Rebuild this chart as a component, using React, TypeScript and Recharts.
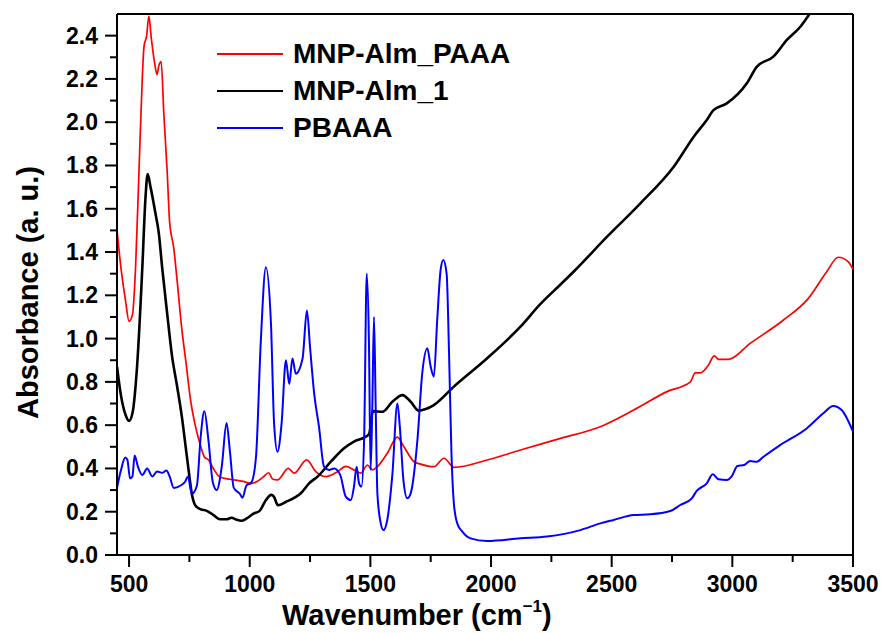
import React from 'react';
import { LineChart, Line, XAxis, YAxis, Legend, ReferenceLine, Label } from 'recharts';

const FONT = '"Liberation Sans", Arial, Helvetica, sans-serif';

// [wavenumber cm-1, absorbance]
const mnpAlmPaaa: [number, number][] = [
  [450, 1.5], [466, 1.33], [486, 1.17], [500, 1.08], [514, 1.11], [527, 1.33], [541, 1.77],
  [555, 2.21], [562, 2.35], [573, 2.4], [582, 2.49], [592, 2.39], [605, 2.28], [616, 2.22],
  [623, 2.26], [633, 2.28], [644, 2.04], [658, 1.77], [668, 1.54], [685, 1.42], [699, 1.27],
  [719, 1.04], [737, 0.88], [753, 0.73], [774, 0.6], [795, 0.51], [814, 0.45], [829, 0.44],
  [849, 0.4], [877, 0.36], [918, 0.35], [973, 0.34], [1005, 0.33], [1030, 0.34], [1055, 0.36],
  [1078, 0.38], [1096, 0.35], [1115, 0.347], [1160, 0.4], [1184, 0.378], [1236, 0.44],
  [1274, 0.385], [1315, 0.362], [1364, 0.385], [1398, 0.41], [1432, 0.393], [1460, 0.378],
  [1488, 0.416], [1508, 0.393], [1529, 0.408], [1570, 0.47], [1612, 0.545], [1639, 0.5],
  [1681, 0.431], [1708, 0.42], [1763, 0.408], [1805, 0.447], [1846, 0.405], [1984, 0.439],
  [2122, 0.485], [2288, 0.539], [2453, 0.593], [2591, 0.67], [2729, 0.755], [2826, 0.8],
  [2846, 0.842], [2867, 0.842], [2901, 0.878], [2925, 0.92], [2943, 0.904], [2984, 0.904],
  [3074, 0.978], [3212, 1.086], [3315, 1.186], [3391, 1.309], [3439, 1.376], [3481, 1.355],
  [3500, 1.32],
];

const mnpAlm1: [number, number][] = [
  [450, 0.87], [466, 0.74], [486, 0.646], [500, 0.62], [514, 0.655], [534, 0.885], [555, 1.33],
  [568, 1.65], [577, 1.76], [589, 1.7], [610, 1.575], [623, 1.49], [637, 1.33], [658, 1.115],
  [678, 0.92], [699, 0.78], [719, 0.637], [737, 0.478], [747, 0.39], [760, 0.283], [774, 0.23],
  [795, 0.212], [822, 0.204], [849, 0.185], [877, 0.165], [904, 0.165], [925, 0.172],
  [945, 0.163], [966, 0.158], [986, 0.168], [1014, 0.19], [1041, 0.204], [1068, 0.255],
  [1089, 0.278], [1100, 0.27], [1117, 0.23], [1151, 0.246], [1193, 0.27], [1212, 0.285],
  [1246, 0.331], [1281, 0.362], [1336, 0.431], [1391, 0.493], [1432, 0.524], [1481, 0.547],
  [1495, 0.56], [1510, 0.665], [1550, 0.662], [1591, 0.708], [1633, 0.739], [1667, 0.708],
  [1701, 0.667], [1730, 0.675], [1763, 0.693], [1846, 0.778], [1984, 0.909], [2122, 1.055],
  [2205, 1.16], [2288, 1.25], [2343, 1.31], [2481, 1.471], [2619, 1.625], [2757, 1.794],
  [2840, 1.933], [2894, 2.01], [2922, 2.056], [2977, 2.087], [3060, 2.18], [3101, 2.256],
  [3170, 2.303], [3226, 2.38], [3281, 2.44], [3320, 2.5],
];

const pbaaa: [number, number][] = [
  [450, 0.31], [466, 0.39], [484, 0.45], [493, 0.44], [504, 0.354], [514, 0.363], [523, 0.46],
  [537, 0.407], [555, 0.37], [575, 0.4], [596, 0.363], [616, 0.386], [637, 0.38], [655, 0.39],
  [668, 0.363], [685, 0.31], [712, 0.32], [733, 0.34], [744, 0.363], [760, 0.283], [781, 0.32],
  [797, 0.55], [812, 0.664], [829, 0.53], [847, 0.336], [863, 0.3], [884, 0.407], [904, 0.61],
  [918, 0.478], [934, 0.31], [959, 0.283], [970, 0.265], [986, 0.32], [1007, 0.336],
  [1026, 0.453], [1046, 0.99], [1067, 1.33], [1088, 1.07], [1101, 0.607], [1115, 0.477],
  [1132, 0.607], [1150, 0.9], [1164, 0.79], [1177, 0.908], [1191, 0.838], [1219, 0.908],
  [1237, 1.13], [1250, 0.96], [1267, 0.747], [1287, 0.593], [1308, 0.408], [1329, 0.393],
  [1350, 0.4], [1375, 0.37], [1398, 0.27], [1419, 0.254], [1432, 0.316], [1443, 0.408],
  [1453, 0.331], [1463, 0.316], [1474, 0.532], [1485, 1.3], [1494, 0.99], [1501, 0.393],
  [1508, 0.685], [1515, 1.1], [1522, 0.685], [1529, 0.285], [1543, 0.146], [1554, 0.115],
  [1570, 0.162], [1591, 0.37], [1612, 0.7], [1622, 0.593], [1637, 0.345], [1653, 0.262],
  [1667, 0.285], [1695, 0.532], [1715, 0.84], [1736, 0.955], [1750, 0.87], [1763, 0.824],
  [1777, 1.086], [1791, 1.317], [1802, 1.363], [1816, 1.3], [1826, 0.932], [1836, 0.47],
  [1846, 0.239], [1860, 0.146], [1881, 0.108], [1915, 0.077], [1984, 0.065], [2122, 0.077],
  [2232, 0.085], [2370, 0.115], [2453, 0.146], [2508, 0.162], [2591, 0.185], [2660, 0.188],
  [2743, 0.203], [2784, 0.231], [2832, 0.262], [2853, 0.297], [2894, 0.331], [2919, 0.373],
  [2943, 0.35], [2977, 0.347], [2998, 0.365], [3021, 0.411], [3049, 0.416], [3074, 0.434],
  [3101, 0.431], [3129, 0.454], [3198, 0.508], [3308, 0.585], [3377, 0.655], [3418, 0.689],
  [3453, 0.67], [3500, 0.57],
];

const xMajorTicks = [500, 1000, 1500, 2000, 2500, 3000, 3500];
const xMinorTicks = [750, 1250, 1750, 2250, 2750, 3250];
const yMajorTicks = [0, 0.2, 0.4, 0.6, 0.8, 1.0, 1.2, 1.4, 1.6, 1.8, 2.0, 2.2, 2.4];
const yMinorTicks = [0.1, 0.3, 0.5, 0.7, 0.9, 1.1, 1.3, 1.5, 1.7, 1.9, 2.1, 2.3];

const series = [
  { name: 'MNP-Alm_PAAA', color: '#ff0000', width: 1.7, points: mnpAlmPaaa },
  { name: 'MNP-Alm_1', color: '#000000', width: 2.6, points: mnpAlm1 },
  { name: 'PBAAA', color: '#0000ff', width: 2, points: pbaaa },
];

const toRows = (pts: [number, number][]) => pts.map(([x, y]) => ({ x, y }));

const XTick = (props: any) => {
  const { x, y, payload } = props;
  const major = xMajorTicks.includes(payload.value);
  return (
    <g>
      <line x1={x} x2={x} y1={y} y2={y + (major ? 12 : 7)} stroke="#000" strokeWidth={2} />
      {major && (
        <text x={x} y={y + 37} textAnchor="middle" fontFamily={FONT} fontWeight="bold" fontSize={23} fill="#000">
          {payload.value}
        </text>
      )}
    </g>
  );
};

const YTick = (props: any) => {
  const { x, y, payload } = props;
  const major = yMajorTicks.includes(payload.value);
  return (
    <g>
      <line x1={x} x2={x - (major ? 12 : 7)} y1={y} y2={y} stroke="#000" strokeWidth={2} />
      {major && (
        <text x={x - 19} y={y + 8} textAnchor="end" fontFamily={FONT} fontWeight="bold" fontSize={23} fill="#000">
          {payload.value.toFixed(1)}
        </text>
      )}
    </g>
  );
};

const XTitle = () => (
  <text x={282} y={625} fontFamily={FONT} fontWeight="bold" fontSize={29} fill="#000">
    Wavenumber (cm
    <tspan fontSize={17} dy={-13}>−1</tspan>
    <tspan dy={13}>)</tspan>
  </text>
);

const YTitle = () => (
  <text
    transform="translate(38, 166) rotate(-90)"
    textAnchor="end"
    fontFamily={FONT}
    fontWeight="bold"
    fontSize={29}
    fill="#000"
  >
    Absorbance (a. u.)
  </text>
);

const renderLegend = () => (
  <div style={{ display: 'flex', flexDirection: 'column' }}>
    {series.map(s => (
      <div key={s.name} style={{ display: 'flex', alignItems: 'center', height: 37 }}>
        <svg width={66} height={6} style={{ display: 'block' }}>
          <line x1={0} x2={66} y1={3} y2={3} stroke={s.color} strokeWidth={2.2} />
        </svg>
        <span style={{ marginLeft: 10, fontFamily: FONT, fontWeight: 'bold', fontSize: 28, color: '#000', lineHeight: 1 }}>
          {s.name}
        </span>
      </div>
    ))}
  </div>
);

export default function App() {
  return (
    <div style={{ position: 'absolute', left: 0, top: 0, width: 881, height: 633, background: '#fff' }}>
      <LineChart width={881} height={633} margin={{ top: 14, right: 28, left: 0, bottom: 0 }}>
        <XAxis
          dataKey="x"
          type="number"
          domain={[450, 3500]}
          allowDataOverflow
          ticks={[...xMajorTicks, ...xMinorTicks].sort((a, b) => a - b)}
          interval={0}
          height={78}
          tickSize={0}
          tickMargin={0}
          tickLine={false}
          axisLine={{ stroke: '#000', strokeWidth: 2 }}
          tick={<XTick />}
        >
          <Label content={<XTitle />} />
        </XAxis>
        <YAxis
          type="number"
          domain={[0, 2.5]}
          allowDataOverflow
          ticks={[...yMajorTicks, ...yMinorTicks].sort((a, b) => a - b)}
          interval={0}
          width={117}
          tickSize={0}
          tickMargin={0}
          tickLine={false}
          axisLine={{ stroke: '#000', strokeWidth: 2 }}
          tick={<YTick />}
        >
          <Label content={<YTitle />} />
        </YAxis>
        <ReferenceLine y={2.5} stroke="#000" strokeWidth={2} />
        <ReferenceLine x={3500} stroke="#000" strokeWidth={2} />
        {series.map(s => (
          <Line
            key={s.name}
            name={s.name}
            data={toRows(s.points)}
            dataKey="y"
            type="monotone"
            stroke={s.color}
            strokeWidth={s.width}
            dot={false}
            activeDot={false}
            isAnimationActive={false}
          />
        ))}
        <Legend
          layout="vertical"
          align="center"
          verticalAlign="middle"
          content={renderLegend}
          wrapperStyle={{ left: 217, top: 35, width: 360 }}
        />
      </LineChart>
    </div>
  );
}
